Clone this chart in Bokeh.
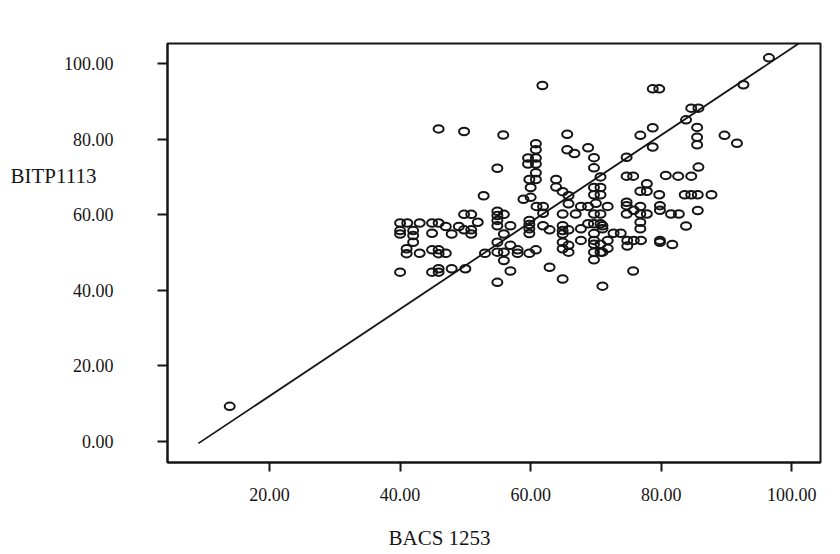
from bokeh.plotting import figure
from bokeh.models import Range1d, FixedTicker, PrintfTickFormatter, LinearAxis, Title
from bokeh.embed import file_html
from bokeh.resources import INLINE

# BACS 1253 (x) and BITP1113 (y) scores
bacs = [13.9,
        96.5, 92.6, 78.7, 79.7, 61.8, 84.6, 85.7, 83.8, 78.7, 85.5, 76.8, 85.5, 85.5, 89.7, 91.6, 78.7, 74.7, 85.7,
        45.9, 49.8, 55.8, 65.6, 60.8, 60.8, 65.6, 66.7, 68.8, 59.6, 60.8, 59.6, 60.8, 69.7, 54.9, 69.7, 60.8, 59.8,
        60.8, 70.7, 63.9, 60.0, 63.9, 64.9, 69.7, 70.7, 65.8, 69.7, 70.7, 52.8, 58.9, 60.0, 65.8, 60.9, 61.9, 67.7,
        68.8, 70.0, 71.8, 61.9, 64.9, 66.9, 69.7, 70.7, 49.8, 50.9, 54.9, 54.9, 55.9,
        74.7, 75.7, 80.7, 82.6, 84.6, 77.8, 76.8, 77.8, 79.7, 83.6, 84.6, 85.6, 87.7, 74.7, 74.7, 74.7, 76.8, 75.8,
        76.8, 77.8, 79.8, 79.8, 81.5, 82.7, 85.6,
        76.8, 76.8, 83.8, 71.0, 71.0, 72.7, 73.8, 71.8, 71.8, 74.8, 75.8, 76.9, 74.8, 79.8, 79.8, 81.7, 71.0, 75.7, 71.0,
        54.9, 54.9, 55.9, 56.9, 51.9, 50.9, 50.9, 49.8, 49.0, 47.9, 47.0, 44.9, 45.9, 44.9, 43.0, 40.0, 41.1, 40.0,
        40.0, 42.0, 42.0, 42.0, 41.0, 41.0, 43.0, 44.9, 45.9, 45.9, 47.0, 40.0, 44.9, 45.9, 45.9, 47.9, 50.0, 53.0,
        54.9, 54.9, 55.9, 55.9, 56.9, 58.0, 58.0, 54.9, 56.9, 59.8, 59.8, 59.8, 59.8, 59.8, 60.8, 61.9, 62.9, 62.9,
        64.9, 64.9, 64.9, 64.9, 64.9, 65.8, 65.8, 64.9, 65.8, 67.7, 67.7, 69.7, 70.7, 69.7, 69.7, 69.7, 70.7, 69.7,
        70.7, 69.7, 68.8]
bitp = [9.3,
        101.5, 94.4, 93.3, 93.3, 94.2, 88.2, 88.2, 85.1, 83.0, 83.1, 81.0, 80.5, 78.5, 81.0, 78.9, 77.9, 75.2, 72.6,
        82.7, 82.0, 81.1, 81.3, 78.8, 77.2, 77.2, 76.2, 77.7, 75.0, 75.0, 73.4, 73.4, 75.1, 72.3, 72.4, 71.1, 69.3,
        69.3, 70.0, 69.3, 67.2, 67.3, 66.1, 67.2, 67.2, 65.0, 65.3, 65.3, 65.0, 64.1, 64.6, 62.9, 62.2, 62.2, 62.2,
        62.2, 63.0, 62.2, 60.4, 60.2, 60.2, 60.2, 60.2, 60.1, 60.1, 60.9, 59.8, 60.1,
        70.2, 70.2, 70.4, 70.2, 70.2, 68.2, 66.2, 66.2, 65.3, 65.3, 65.3, 65.3, 65.3, 63.3, 62.4, 60.2, 62.2, 61.2,
        60.2, 60.2, 62.4, 61.2, 60.2, 60.2, 61.1,
        58.0, 56.3, 57.0, 57.1, 56.3, 55.1, 55.1, 53.2, 51.1, 53.2, 53.2, 53.2, 51.7, 53.2, 52.7, 52.1, 50.1, 45.1, 41.1,
        58.5, 57.1, 54.9, 57.1, 58.0, 56.0, 54.9, 56.0, 56.9, 54.9, 56.9, 57.8, 57.8, 55.1, 57.8, 57.8, 57.8, 55.8,
        54.9, 55.8, 54.5, 52.7, 51.0, 49.7, 49.8, 50.7, 50.7, 49.7, 49.8, 44.8, 44.8, 45.7, 44.8, 45.7, 45.7, 49.8,
        52.7, 50.1, 50.1, 47.9, 51.9, 50.7, 49.8, 42.1, 45.1, 58.5, 57.4, 56.3, 55.0, 49.8, 50.7, 57.1, 56.0, 46.1,
        57.1, 55.8, 54.9, 52.7, 51.0, 51.9, 50.1, 43.0, 56.0, 56.3, 53.2, 57.6, 57.6, 55.0, 53.2, 52.2, 52.2, 50.1,
        50.1, 48.1, 57.6]

# fitted line end points
fit_x = [9.1, 107.5]
fit_y = [-0.5, 112.7]

x_ticks = [20, 40, 60, 80, 100]
y_ticks = [0, 20, 40, 60, 80, 100]
x_title = "BACS 1253"
y_title = "BITP1113"

FONT = "Liberation Serif"
INK = "#151515"

p = figure(width=840, height=554, output_backend="svg", toolbar_location=None,
           title=None,
           x_range=Range1d(4.37, 104.4), y_range=Range1d(-5.56, 105.3),
           min_border_left=167, min_border_right=20, min_border_top=43, min_border_bottom=92)

p.background_fill_color = "white"
p.border_fill_color = "white"
p.outline_line_color = INK
p.outline_line_width = 2
p.xgrid.visible = False
p.ygrid.visible = False

for ax, ticks in ((p.xaxis[0], x_ticks), (p.yaxis[0], y_ticks)):
    ax.ticker = FixedTicker(ticks=ticks)
    ax.formatter = PrintfTickFormatter(format="%.2f")
    ax.axis_line_color = INK
    ax.axis_line_width = 2
    ax.major_tick_line_color = INK
    ax.major_tick_line_width = 2
    ax.major_tick_in = 0
    ax.minor_tick_line_color = None
    ax.major_label_text_font = FONT
    ax.major_label_text_font_size = "18px"
    ax.major_label_text_color = INK

p.xaxis.major_tick_out = 9
p.xaxis.major_label_standoff = 16
p.yaxis.major_tick_out = 10
p.yaxis.major_label_standoff = 44
# a blank axis label only adds a little room between the tick labels and the x title
p.xaxis.axis_label = " "
p.xaxis.axis_label_text_font_size = "9px"
p.xaxis.axis_label_standoff = 5

# y-axis title: horizontal label on a second, invisible left axis;
# blank lines below it lift the visible line to where the reference shows it
ylab_axis = LinearAxis(ticker=FixedTicker(ticks=[]),
                       axis_line_color=None, major_tick_line_color=None, minor_tick_line_color=None,
                       major_label_text_font_size="0px",
                       axis_label=y_title + "\n \n \n \n \n ", axis_label_orientation="horizontal",
                       axis_label_standoff=-36,
                       axis_label_text_font=FONT, axis_label_text_font_size="21px",
                       axis_label_text_line_height=1.28,
                       axis_label_text_font_style="normal", axis_label_text_color=INK)
p.add_layout(ylab_axis, "left")

# x-axis title
p.add_layout(Title(text=x_title, align="left", offset=221, standoff=4,
                   text_font=FONT, text_font_size="21px", text_font_style="normal",
                   text_color=INK), "below")

# regression line
p.line(fit_x, fit_y, line_color=INK, line_width=1.8)

p.ellipse(x=bacs, y=bitp, width=10, height=7.5, width_units="screen", height_units="screen",
          fill_color=None, line_color=INK, line_width=2)

open("out.html", "w").write(file_html(p, INLINE))
